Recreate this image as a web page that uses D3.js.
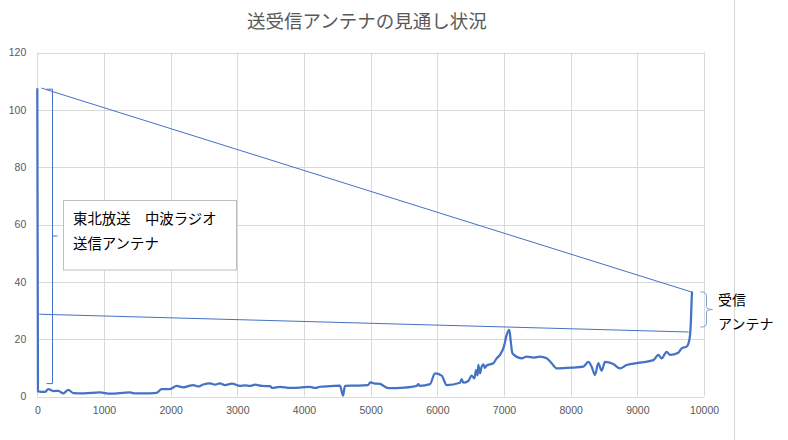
<!DOCTYPE html>
<html><head><meta charset="utf-8">
<script src="https://cdn.jsdelivr.net/npm/d3@7"></script>
<style>
html,body{margin:0;padding:0;background:#fff;}
svg{display:block;}
</style></head>
<body>
<svg id="chart" width="788" height="440"></svg>
<script>
// ---- data ----
const title = "送受信アンテナの見通し状況";
const xTicks = [0,1000,2000,3000,4000,5000,6000,7000,8000,9000,10000];
const yTicks = [0,20,40,60,80,100,120];
const distance = [0,10,115,165,240,315,390,465,540,700,940,1090,1390,1450,1590,1790,1865,1990,2090,2190,2340,2410,2490,2590,2665,2740,2815,2920,3040,3115,3190,3265,3370,3490,3520,3640,3790,3940,4090,4165,4240,4390,4540,4585,4615,4765,4960,4995,5065,5140,5215,5265,5500,5690,5715,5740,5890,5965,6065,6140,6340,6365,6390,6465,6515,6555,6580,6605,6615,6640,6665,6690,6715,6740,6840,6890,6940,7000,7040,7080,7100,7125,7150,7265,7340,7450,7540,7640,7715,7790,8040,8190,8265,8315,8365,8415,8465,8515,8640,8740,8840,9040,9240,9315,9365,9440,9490,9615,9665,9740,9780,9800,9815,9820];
const height = [107.2,1.8,1.6,2.6,1.9,2.0,1.1,2.3,1.2,1.1,1.4,1.0,1.4,1.1,1.1,1.3,2.6,2.6,3.7,3.2,4.0,3.5,4.2,4.6,4.1,4.6,4.0,4.5,3.7,3.9,3.7,4.1,3.7,3.6,3.0,3.4,3.0,3.1,3.4,3.0,3.4,3.6,3.8,0.3,3.7,3.8,4.0,4.9,4.5,4.4,3.4,2.9,3.1,3.7,4.3,3.7,4.3,8.1,7.3,4.0,4.8,6.1,4.8,5.4,7.3,6.3,9.2,7.4,11.0,8.1,10.4,11.2,10.0,10.8,11.6,13.3,14.5,17.5,21.5,23.2,19.5,15.2,14.5,13.3,13.9,13.6,13.9,13.3,11.6,9.8,10.1,10.4,12.1,10.4,7.5,11.6,9.0,12.1,11.3,9.8,11.0,11.8,12.7,14.5,13.3,15.6,14.5,15.3,16.8,17.4,19.7,24.4,33.7,36.3];
// sight lines [x0, y0, x1, y1]
const upperSight = [60, 107.6, 9820, 36.4];
const lowerSight = [30, 28.7, 9770, 22.5];
// brace at transmitter: x, top, bottom, middle
const txBrace = [225, 107.2, 4.5, 56];
const txLabel = ["東北放送　中波ラジオ", "送信アンテナ"];
// brace at receiver: top, bottom (data units)
const rxBrace = [36.5, 24.2];
const rxLabel = ["受信", "アンテナ"];

// ---- layout ----
const svg = d3.select("#chart");
const x = d3.scaleLinear().domain([0,10000]).range([37.3,704]);
const y = d3.scaleLinear().domain([0,120]).range([396.5,52.5]);
const grid = "#d9d9d9", txt = "#595959", blue = "#4472C4";

// chart area right border
svg.append("line").attr("x1",734.5).attr("x2",734.5).attr("y1",0).attr("y2",440)
  .attr("stroke",grid).attr("stroke-width",1);

// gridlines
svg.append("g").selectAll("line").data(yTicks).join("line")
  .attr("x1",x(0)).attr("x2",x(10000))
  .attr("y1",d=>Math.round(y(d))+0.5).attr("y2",d=>Math.round(y(d))+0.5)
  .attr("stroke",grid).attr("stroke-width",1);
svg.append("g").selectAll("line").data(xTicks).join("line")
  .attr("x1",d=>Math.round(x(d))+0.5).attr("x2",d=>Math.round(x(d))+0.5)
  .attr("y1",y(120)).attr("y2",y(0))
  .attr("stroke",grid).attr("stroke-width",1);

// axes labels
const yAxis = d3.axisLeft(y).tickValues(yTicks).tickSize(0).tickPadding(11);
const gy = svg.append("g").attr("transform",`translate(${x(0)},0)`).call(yAxis);
gy.select(".domain").remove();
gy.selectAll("text").attr("fill",txt).style("font-family","'Liberation Sans',Arial,sans-serif").style("font-size","10.5px");
const xAxis = d3.axisBottom(x).tickValues(xTicks).tickSize(0).tickPadding(10).tickFormat(d3.format("d"));
const gx = svg.append("g").attr("transform",`translate(0,${y(0)})`).call(xAxis);
gx.select(".domain").remove();
gx.selectAll("text").attr("fill",txt).style("font-family","'Liberation Sans',Arial,sans-serif").style("font-size","10.5px");

// title
svg.append("text").attr("x",367).attr("y",20).attr("text-anchor","middle")
  .attr("dominant-baseline","central")
  .style("font-family","'Noto Sans CJK JP',sans-serif").style("font-size","18.5px")
  .attr("fill",txt).text(title);

// sight lines
[upperSight, lowerSight].forEach(s=>{
  svg.append("line").attr("x1",x(s[0])).attr("y1",y(s[1])).attr("x2",x(s[2])).attr("y2",y(s[3]))
    .attr("stroke",blue).attr("stroke-width",1);
});

// terrain series
const pts = distance.map((d,i)=>[d,height[i]]);
svg.append("path").datum(pts)
  .attr("d",d3.line().x(d=>x(d[0])).y(d=>y(d[1])).curve(d3.curveMonotoneX))
  .attr("fill","none").attr("stroke",blue).attr("stroke-width",2.25)
  .attr("stroke-linejoin","round").attr("stroke-linecap","round");

// transmitter brace
{
  const bx = Math.round(x(txBrace[0]))+0.5, t=y(txBrace[1]), b=y(txBrace[2]), m=y(txBrace[3]);
  svg.append("path").attr("d",`M${bx-6},${t} L${bx},${t} L${bx},${b} L${bx-6},${b} M${bx},${m} L${bx+5},${m}`)
    .attr("fill","none").attr("stroke",blue).attr("stroke-width",1);
}
// text box
svg.append("rect").attr("x",63.5).attr("y",200.5).attr("width",173).attr("height",69.5)
  .attr("fill","#fff").attr("stroke","#bfbfbf").attr("stroke-width",1);
svg.append("g").selectAll("text").data(txLabel).join("text")
  .attr("x",73).attr("y",(d,i)=>217+i*25).attr("dominant-baseline","central")
  .style("font-family","'Noto Sans CJK JP',sans-serif").style("font-size","14.4px")
  .attr("fill","#000").text(d=>d);

// receiver brace
{
  const t=y(rxBrace[0]), b=y(rxBrace[1]), m=(t+b)/2, bx=706.5;
  svg.append("path").attr("d",`M${bx-6},${t} Q${bx},${t} ${bx},${t+4} L${bx},${m-3} Q${bx},${m} ${bx+6},${m} Q${bx},${m} ${bx},${m+3} L${bx},${b-4} Q${bx},${b} ${bx-6},${b}`)
    .attr("fill","none").attr("stroke","#7f9fd6").attr("stroke-width",1);
}
svg.append("g").selectAll("text").data(rxLabel).join("text")
  .attr("x",718).attr("y",(d,i)=>299+i*24).attr("dominant-baseline","central")
  .style("font-family","'Noto Sans CJK JP',sans-serif").style("font-size","14px")
  .attr("fill","#000").text(d=>d);
</script>
</body></html>
